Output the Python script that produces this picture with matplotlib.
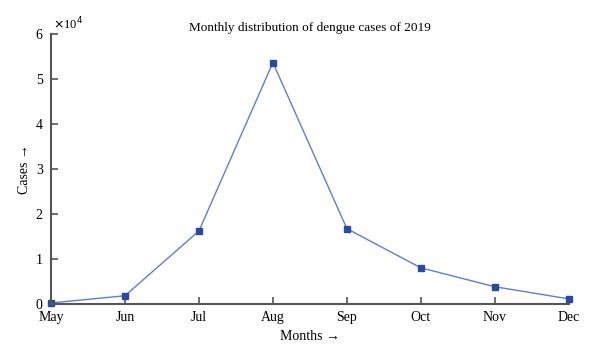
import numpy as np
import matplotlib
matplotlib.use("Agg")
import matplotlib.pyplot as plt

months = ["May", "Jun", "Jul", "Aug", "Sep", "Oct", "Nov", "Dec"]
cases = [200, 1800, 16200, 53600, 16700, 8000, 3800, 1100]

plt.rcParams['font.family'] = ['Liberation Serif', 'DejaVu Serif']

fig = plt.figure(figsize=(6, 3.6), dpi=100)
ax = fig.add_axes([0.085, 0.156, 0.863, 0.75])

x = np.arange(len(months))
ax.plot(x, np.array(cases) / 1e4, color='#5b7fd6', lw=1.0,
        marker='s', ms=4, mfc='#2a4aa0', mec='#2a4aa0', clip_on=False)

ax.set_xlim(0, len(months) - 1)
ax.set_ylim(0, 6)
ax.set_xticks(x)
ax.set_xticklabels(months)
ax.set_yticks(range(7))

for s in ['top', 'right']:
    ax.spines[s].set_visible(False)
for s in ['left', 'bottom']:
    ax.spines[s].set_color('#555555')
    ax.spines[s].set_linewidth(1.5)
ax.tick_params(direction='in', length=5, width=1.2, color='#555555',
               labelsize=10)
ax.tick_params(axis='x', pad=5.5)
ax.tick_params(axis='y', pad=6)

ax.text(0.003, 1.005, r'$\times$10$^4$', transform=ax.transAxes,
        fontsize=9, va='bottom', ha='left')
ax.set_title('Monthly distribution of dengue cases of 2019', fontsize=9.5, pad=2)
ax.set_xlabel('Months \u2192', fontsize=10, labelpad=4)
ax.set_ylabel('Cases \u2192', fontsize=10, labelpad=3)

fig.savefig('out.png', dpi=100)
